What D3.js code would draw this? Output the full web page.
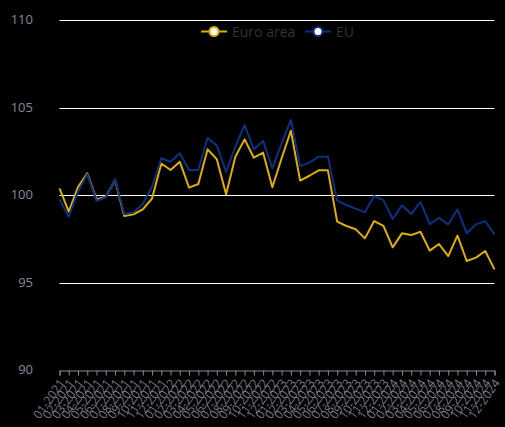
<!DOCTYPE html>
<html><head><meta charset="utf-8">
<script src="https://cdn.jsdelivr.net/npm/d3@7"></script>
<style>
html,body{margin:0;padding:0;background:#000;}
svg{display:block;font-family:"Open Sans","DejaVu Sans",sans-serif;}
</style></head>
<body><svg id="c" width="505" height="427"></svg>
<script>
const months = [];
for (let y = 2021; y <= 2024; y++) for (let m = 1; m <= 12; m++) months.push(String(m).padStart(2,"0") + "-" + y);
const euroArea = [100.38,99.05,100.45,101.24,99.75,99.9,100.86,98.8,98.9,99.18,99.8,101.8,101.43,101.9,100.42,100.63,
  102.61,102.04,100.04,102.19,103.18,102.13,102.42,100.44,102.1,103.67,100.82,101.1,101.41,101.41,
  98.48,98.23,98.04,97.52,98.51,98.23,97.01,97.81,97.71,97.9,96.82,97.2,96.51,97.68,96.23,96.42,96.8,95.75];
const eu = [99.75,98.76,100.19,101.18,99.66,99.87,100.9,98.91,99.0,99.49,100.47,102.1,101.9,102.38,101.43,101.43,
  103.27,102.82,101.33,102.76,104.0,102.61,103.09,101.52,102.95,104.29,101.66,101.85,102.19,102.19,
  99.68,99.43,99.22,99.01,99.94,99.71,98.63,99.41,98.91,99.6,98.34,98.7,98.32,99.18,97.81,98.32,98.51,97.75];
const yTicks = [90,95,100,105,110];
const seriesNames = ["Euro area","EU"];
const colors = ["#ddb000","#0e3080"];

const svg = d3.select("#c");
const x = d3.scalePoint().domain(months).range([59.5, 494.5]);
const y = d3.scaleLinear().domain([90,110]).range([370, 20]);

// gridlines
svg.append("g").selectAll("line").data(yTicks.filter(d => d > 90)).join("line")
  .attr("x1", 59.5).attr("x2", 494.5)
  .attr("y1", d => Math.round(y(d)) + 0.5).attr("y2", d => Math.round(y(d)) + 0.5)
  .attr("stroke", "#ffffff").attr("stroke-width", 1);

// y labels
svg.append("g").selectAll("text").data(yTicks).join("text")
  .attr("x", 33).attr("y", d => y(d) + 4)
  .attr("text-anchor", "end").attr("fill", "#8a8a92").attr("font-size", 13)
  .text(d => d);

// x axis
const xAxis = svg.append("g").attr("transform", "translate(0,370.5)")
  .call(d3.axisBottom(x).tickSize(5).tickPadding(0));
xAxis.select(".domain").attr("stroke", "#8a8a92");
xAxis.selectAll(".tick line").attr("stroke", "#8a8a92");
xAxis.selectAll(".tick text")
  .attr("fill", "#7a7a82").attr("font-size", 12)
  .attr("font-family", "Open Sans, DejaVu Sans, sans-serif")
  .attr("text-anchor", "end")
  .attr("x", 0).attr("y", 0)
  .attr("dy", "0.35em")
  .attr("transform", "translate(2,10) rotate(-55)");

// lines
const line = d3.line().x((d,i) => x(months[i])).y(d => y(d));
[euroArea, eu].forEach((s, k) => {
  svg.append("path").datum(s).attr("d", line)
    .attr("fill", "none").attr("stroke", colors[k]).attr("stroke-width", 2)
    .attr("stroke-linejoin", "round");
});

// legend
const lg = svg.append("g");
const items = [{name: seriesNames[0], c: colors[0], x: 201}, {name: seriesNames[1], c: colors[1], x: 305}];
items.forEach(it => {
  lg.append("line").attr("x1", it.x).attr("x2", it.x + 26).attr("y1", 31.5).attr("y2", 31.5)
    .attr("stroke", it.c).attr("stroke-width", 2);
  lg.append("circle").attr("cx", it.x + 13).attr("cy", 31.5).attr("r", 4.5)
    .attr("fill", "#fff").attr("stroke", it.c).attr("stroke-width", 2);
  lg.append("text").attr("x", it.x + 31).attr("y", 36.5).attr("fill", "#333333")
    .attr("font-size", 14).text(it.name);
});
</script></body></html>
